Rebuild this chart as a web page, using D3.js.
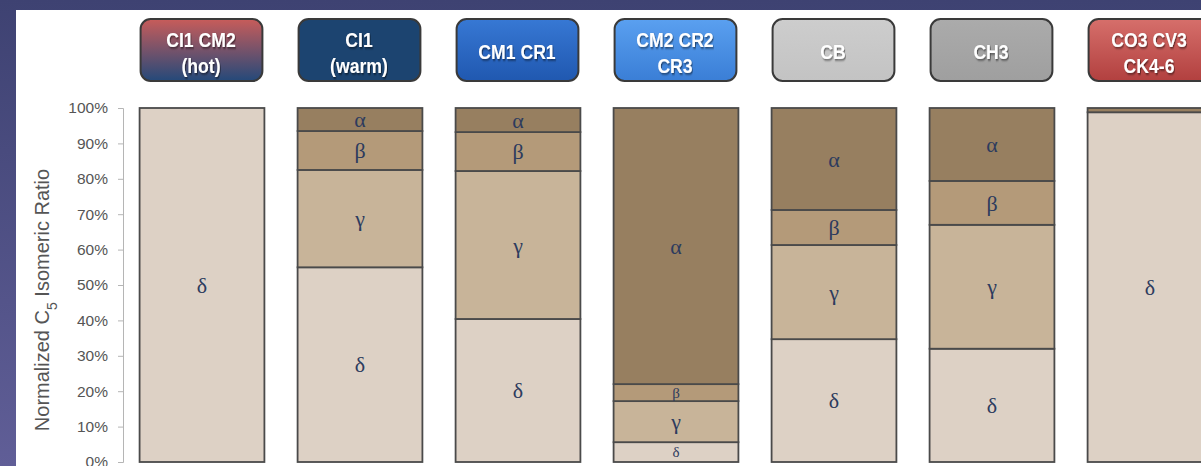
<!DOCTYPE html>
<html>
<head>
<meta charset="utf-8">
<script src="https://cdn.jsdelivr.net/npm/d3@7"></script>
<style>
  body { margin: 0; background: #3f4374; overflow: hidden; }
  svg { display: block; }
  .tick text { font-family: "Liberation Sans", Arial, sans-serif; font-size: 15.5px; fill: #555; }
  .axis path, .axis line { stroke: #b5b5b5; }
</style>
</head>
<body>
<svg width="1201" height="466"></svg>
<script>
// categories (header boxes) and their stacked isomer shares, in %
var groups = ["CI1 CM2\n(hot)", "CI1\n(warm)", "CM1 CR1", "CM2 CR2\nCR3", "CB", "CH3", "CO3 CV3\nCK4-6"];
var isomers = ["δ", "γ", "β", "α"];   // stacked bottom to top
var alpha = [0, 6.5, 6.8, 78, 28.8, 20.6, 1.2];
var beta  = [0, 11, 11, 4.8, 9.9, 12.4, 0];
var gamma = [0, 27.5, 41.8, 11.6, 26.6, 35, 0];
var delta = [100, 55, 40.4, 5.6, 34.7, 32, 98.8];
var yTicks = [0, 10, 20, 30, 40, 50, 60, 70, 80, 90, 100];

var svg = d3.select("svg");
var defs = svg.append("defs");

// background: dark blue frame left and top, white panel
var bg = defs.append("linearGradient").attr("id", "frame").attr("x1", 0).attr("y1", 0).attr("x2", 0).attr("y2", 1);
bg.append("stop").attr("offset", "0%").attr("stop-color", "#3e4272");
bg.append("stop").attr("offset", "100%").attr("stop-color", "#605e97");
svg.append("rect").attr("width", 1201).attr("height", 466).attr("fill", "url(#frame)");
svg.append("rect").attr("x", 16).attr("y", 10).attr("width", 1185).attr("height", 456).attr("fill", "#fff");

var x = d3.scaleBand().domain(groups).range([123, 1229]).paddingInner(0.21).paddingOuter(0.105);
var y = d3.scaleLinear().domain([0, 100]).range([462, 108]);

// header box styles
var headerFill = [
  ["#c85c5a", "#24497a"],
  ["#1c4470", "#1c4470"],
  ["#3778d4", "#2058b0"],
  ["#5aa0f0", "#3a7ed6"],
  ["#cdcdcd", "#c3c3c3"],
  ["#ababab", "#9f9f9f"],
  ["#d66f6b", "#b2403f"]
];
headerFill.forEach(function(c, i) {
  var gr = defs.append("linearGradient").attr("id", "hd" + i).attr("x1", 0).attr("y1", 0).attr("x2", 0).attr("y2", 1);
  gr.append("stop").attr("offset", "0%").attr("stop-color", c[0]);
  gr.append("stop").attr("offset", "100%").attr("stop-color", c[1]);
});
var shadow = defs.append("filter").attr("id", "ts").attr("x", "-20%").attr("y", "-20%").attr("width", "140%").attr("height", "140%");
shadow.append("feDropShadow").attr("dx", 1).attr("dy", 1.5).attr("stdDeviation", 0.8).attr("flood-color", "#000").attr("flood-opacity", 0.55);

var heads = svg.selectAll(".head").data(groups).enter().append("g").attr("class", "head");
heads.append("rect")
  .attr("x", function(d) { return x(d) + 1; })
  .attr("y", 19)
  .attr("width", x.bandwidth() - 3)
  .attr("height", 62)
  .attr("rx", 10)
  .attr("fill", function(d, i) { return "url(#hd" + i + ")"; })
  .attr("stroke", "#3a3a3a")
  .attr("stroke-width", 2);
heads.each(function(d) {
  var lines = d.split("\n");
  // narrow bold face: squeeze the text horizontally
  var t = d3.select(this).append("text")
    .attr("transform", "translate(" + (x(d) + x.bandwidth() / 2 - 1) + ",0) scale(0.84,1)")
    .attr("text-anchor", "middle")
    .attr("fill", "#fff")
    .attr("filter", "url(#ts)")
    .style("font-family", "'Liberation Sans', Arial, sans-serif")
    .style("font-weight", "bold")
    .style("font-size", "21px");
  var base = lines.length > 1 ? 47 : 59;
  lines.forEach(function(l, k) {
    t.append("tspan").attr("x", 0).attr("y", base + k * 26).text(l);
  });
});

// stacked data
var table = groups.map(function(g, i) {
  return { group: g, "δ": delta[i], "γ": gamma[i], "β": beta[i], "α": alpha[i] };
});
var stack = d3.stack().keys(isomers)(table);
var color = d3.scaleOrdinal().domain(isomers).range(["#ddd1c5", "#c8b499", "#b49a79", "#977f60"]);

// y axis
svg.append("g")
  .attr("class", "axis")
  .attr("transform", "translate(123,0)")
  .call(d3.axisLeft(y).tickValues(yTicks).tickSize(5).tickPadding(10).tickFormat(function(d) { return d + "%"; }));

svg.append("text")
  .attr("transform", "translate(49,300) rotate(-90)")
  .attr("text-anchor", "middle")
  .attr("fill", "#555")
  .style("font-family", "'Liberation Sans', Arial, sans-serif")
  .style("font-size", "20px")
  .html("Normalized C<tspan baseline-shift='sub' font-size='14px'>5</tspan> Isomeric Ratio");

var layer = svg.selectAll(".layer").data(stack).enter().append("g").attr("class", "layer")
  .attr("fill", function(d) { return color(d.key); });

layer.selectAll("rect")
  .data(function(d) { return d.filter(function(s) { return s[1] - s[0] > 0; }); })
  .enter().append("rect")
  .attr("x", function(d) { return x(d.data.group); })
  .attr("y", function(d) { return y(d[1]); })
  .attr("width", x.bandwidth())
  .attr("height", function(d) { return y(d[0]) - y(d[1]); })
  .attr("stroke", "#4a4a4a")
  .attr("stroke-width", 1.8);

// greek labels
layer.selectAll("text")
  .data(function(d) {
    return d.filter(function(s) { return s[1] - s[0] > 2; }).map(function(s) { s.key = d.key; return s; });
  })
  .enter().append("text")
  .attr("x", function(d) { return x(d.data.group) + x.bandwidth() / 2; })
  .attr("y", function(d) { return y((d[0] + d[1]) / 2); })
  .attr("dy", "0.35em")
  .attr("text-anchor", "middle")
  .attr("fill", "#2d3b5e")
  .style("font-family", "'Liberation Serif', 'Times New Roman', serif")
  .style("font-size", function(d) { return (d[1] - d[0]) < 6 ? "15px" : "22px"; })
  .text(function(d) { return d.key; });
</script>
</body>
</html>
